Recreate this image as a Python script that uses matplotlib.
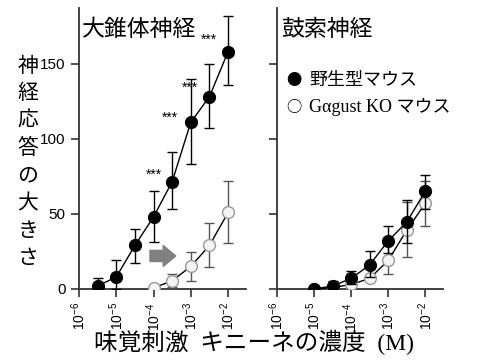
import matplotlib.pyplot as plt
import matplotlib as mpl
import numpy as np

mpl.rcParams['mathtext.fontset'] = 'custom'
mpl.rcParams['mathtext.rm'] = 'Liberation Sans'
mpl.rcParams['mathtext.it'] = 'Liberation Sans'
mpl.rcParams['font.family'] = ['Liberation Sans', 'Noto Sans CJK JP', 'DejaVu Sans']

JP = ['Noto Sans CJK JP', 'DejaVu Sans']
SERIF_JP = ['Liberation Serif', 'Noto Sans CJK JP', 'DejaVu Sans']

# log10 concentration (M)
gsp_wt_x = [-5.5, -5, -4.5, -4, -3.5, -3, -2.5, -2]
gsp_wt_y = [2, 8, 29, 48, 71.5, 111, 128, 158]
gsp_wt_up = [7, 19, 40, 65, 91, 140, 150, 182]
gsp_wt_lo = [0, 0, 17, 31, 53, 83, 107, 136]

gsp_ko_x = [-4, -3.5, -3, -2.5, -2]
gsp_ko_y = [0.7, 5.5, 15, 29, 51]
gsp_ko_up = [0.7, 10, 24.5, 44, 72]
gsp_ko_lo = [0.7, 1, 5.5, 14.5, 30.5]

ct_wt_x = [-5, -4.5, -4, -3.5, -3, -2.5, -2]
ct_wt_y = [0, 2, 7, 16, 32, 44.5, 65]
ct_wt_up = [0, 5.5, 12, 25, 42, 59, 76]
ct_wt_lo = [0, 0, 3, 8, 24, 30.5, 53]

ct_ko_x = [-5, -4.5, -4, -3.5, -3, -2.5, -2]
ct_ko_y = [0, 1, 3, 7, 19, 39, 57]
ct_ko_up = [0, 1, 3, 7, 30, 58, 72]
ct_ko_lo = [0, 1, 3, 7, 10, 21, 42]

# significance marks (log x, y)
star_x = [-4, -3.55, -3.02, -2.52]
star_y = [76, 114, 134, 166]

yticks = [0, 50, 100, 150]
xtick_exp = [-6, -5, -4, -3, -2]

fig = plt.figure(figsize=(5.02, 3.6), dpi=100)
ax1 = fig.add_axes([79/502, 71/360, 167/502, 281/360])
ax2 = fig.add_axes([277/502, 71/360, 166/502, 281/360])


def draw(ax, x, y, up, lo, filled):
    x = 10.0 ** np.array(x)
    y = np.array(y)
    err = [y - np.array(lo), np.array(up) - y]
    if filled:
        ax.errorbar(x, y, yerr=err, fmt='-o', color='black', ecolor='black',
                    mfc='black', mec='black', ms=8.5, lw=1.0, elinewidth=1.0,
                    capsize=3.5, zorder=4)
    else:
        ax.errorbar(x, y, yerr=err, fmt='-o', color='black', ecolor='#555555',
                    mfc='#f4f4f4', mec='#999999', ms=8.5, lw=1.0, elinewidth=1.0,
                    capsize=3.5, zorder=3)


draw(ax1, gsp_wt_x, gsp_wt_y, gsp_wt_up, gsp_wt_lo, True)
draw(ax1, gsp_ko_x, gsp_ko_y, gsp_ko_up, gsp_ko_lo, False)
draw(ax2, ct_wt_x, ct_wt_y, ct_wt_up, ct_wt_lo, True)
draw(ax2, ct_ko_x, ct_ko_y, ct_ko_up, ct_ko_lo, False)

for sx, sy in zip(star_x, star_y):
    ax1.text(10.0 ** sx, sy, '***', ha='center', va='center', fontsize=10)

ax1.annotate('', xy=(10 ** -3.33, 22), xytext=(10 ** -4.17, 22),
             arrowprops=dict(arrowstyle='simple,head_width=1.5,head_length=0.9,tail_width=0.8',
                             color='#808080', mutation_scale=10))

for ax in (ax1, ax2):
    ax.set_xscale('log')
    ax.set_xlim(10 ** -6, 10 ** -1.52)
    ax.set_ylim(0, 187)
    ax.spines['top'].set_visible(False)
    ax.spines['right'].set_visible(False)
    ax.spines['left'].set_color('#333333')
    ax.spines['bottom'].set_color('#333333')
    ax.spines['left'].set_linewidth(1.3)
    ax.spines['bottom'].set_linewidth(1.3)
    ax.set_xticks([10.0 ** e for e in xtick_exp])
    ax.set_xticklabels([r'$10^{%d}$' % e for e in xtick_exp], rotation=90, fontsize=10)
    ax.xaxis.set_minor_locator(mpl.ticker.NullLocator())
    ax.set_yticks(yticks)
    ax.tick_params(direction='out', length=6, width=1.2, color='#333333')
    ax.tick_params(axis='y', labelsize=11)

ax2.set_yticklabels([])

fig.text(82/502, 1 - 30/360, '大錐体神経', family=JP, fontsize=16.5, va='center', ha='left')
fig.text(281/502, 1 - 30/360, '鼓索神経', family=JP, fontsize=16.5, va='center', ha='left')
fig.text(286/502, 1 - 80/360, '●', family=JP, fontsize=11, va='center', ha='left')
fig.text(286/502, 1 - 107/360, '○', family=JP, fontsize=11, va='center', ha='left')
fig.text(309/502, 1 - 80/360, '野生型マウス', family=SERIF_JP, fontsize=13, va='center', ha='left')
fig.text(309/502, 1 - 107/360, 'Gαgust KO マウス', family=SERIF_JP, fontsize=13, va='center', ha='left')

fig.text(28/502, 1 - 162/360, '\n'.join('神経応答の大きさ'), family=JP, fontsize=15,
         va='center', ha='center', linespacing=1.32)
fig.text(254/502, 1 - 342/360, '味覚刺激  キニーネの濃度  (M)', family=SERIF_JP, fontsize=17,
         va='center', ha='center')

fig.savefig('out.png', dpi=100)
